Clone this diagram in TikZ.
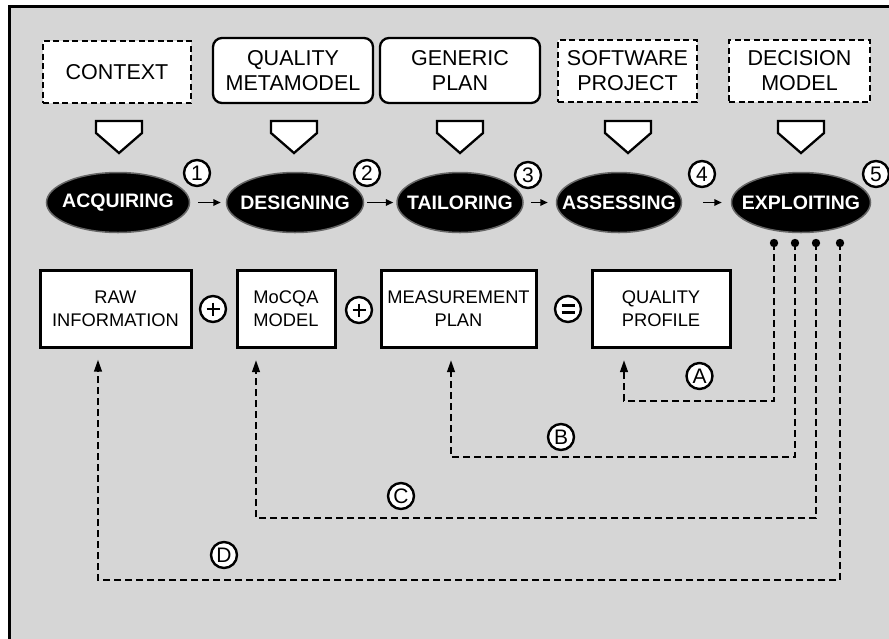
\documentclass[tikz,border=0pt]{standalone}
\usepackage{fontspec}
\setmainfont{Liberation Sans}
\usetikzlibrary{shapes.geometric,arrows.meta,calc}
\definecolor{bg}{RGB}{214,214,214}
\begin{document}
\begin{tikzpicture}[x=1pt,y=-1pt,
  dashbox/.style={draw=black, fill=white, line width=2.3pt, dash pattern=on 6pt off 3.5pt,
    minimum height=62pt, align=center, inner sep=0pt, font=\fontsize{21.5}{25}\selectfont},
  roundbox/.style={draw=black, fill=white, line width=2.3pt, rounded corners=9pt,
    minimum height=65pt, align=center, inner sep=0pt, font=\fontsize{21.5}{25}\selectfont},
  outbox/.style={draw=black, fill=white, line width=3pt,
    minimum height=77pt, align=center, inner sep=0pt, font=\fontsize{18.3}{23}\selectfont},
  stage/.style={ellipse, fill=black, draw=black!60, line width=1.5pt, text=white,
    minimum height=60pt, inner sep=0pt, font=\bfseries\fontsize{19.5}{20}\selectfont},
  circ/.style={circle, draw=black, fill=white, line width=2.4pt, minimum size=26pt,
    inner sep=0pt, font=\fontsize{21}{21}\selectfont},
  opsym/.style={circle, draw=black, fill=white, line width=2.4pt, minimum size=26pt,
    inner sep=0pt},
  plussign/.style={path picture={
    \draw[line width=2.8pt] ($(path picture bounding box.center)+(-6.5,0)$) -- +(13,0);
    \draw[line width=2.8pt] ($(path picture bounding box.center)+(0,-6.5)$) -- +(0,13);}},
  eqsign/.style={path picture={
    \draw[line width=2.8pt] ($(path picture bounding box.center)+(-6.5,-3.2)$) -- +(13,0);
    \draw[line width=2.8pt] ($(path picture bounding box.center)+(-6.5,3.2)$) -- +(13,0);}},
  flow/.style={line width=1.6pt, -{Triangle[length=7.5pt,width=6.5pt]}},
  fb/.style={line width=2.3pt, dash pattern=on 7pt off 4pt, -{Triangle[length=12pt,width=7.5pt]}},
  pentarrow/.pic={\draw[fill=white, line width=2.3pt, line join=miter]
     (-23,0) -- (23,0) -- (23,12) -- (0,32) -- (-23,12) -- cycle;}
]
\useasboundingbox (0,0) rectangle (889,638);
\clip (0,0) rectangle (889,638);
\fill[white] (0,0) rectangle (889,638);
\draw[line width=3.2pt, fill=bg] (9.5,6.5) rectangle (905,660);

% input boxes
\node[dashbox, minimum width=148pt] (ctx) at (117,72) {CONTEXT};
\node[roundbox, minimum width=160pt] (qmm) at (293,70.5) {QUALITY\\METAMODEL};
\node[roundbox, minimum width=160pt] (gp) at (460,70.5) {GENERIC\\PLAN};
\node[dashbox, minimum width=139pt] (sp) at (627.5,71) {SOFTWARE\\PROJECT};
\node[dashbox, minimum width=141pt] (dm) at (799.5,71) {DECISION\\MODEL};

% down arrows
\pic at (119,121) {pentarrow};
\pic at (294,121) {pentarrow};
\pic at (460,121) {pentarrow};
\pic at (628,121) {pentarrow};
\pic at (801,121) {pentarrow};

% stages
\node[stage, minimum width=143pt] (acq) at (118,202.5) {\makebox[0pt]{ACQUIRING}};
\node[stage, minimum width=137pt] (des) at (295,202.5) {\makebox[0pt]{DESIGNING}};
\node[stage, minimum width=126pt] (tai) at (460,202.5) {\makebox[0pt]{TAILORING}};
\node[stage, minimum width=125pt] (ass) at (619,202.5) {\makebox[0pt]{ASSESSING}};
\node[stage, minimum width=139pt] (exp) at (801,202.5) {\makebox[0pt]{EXPLOITING}};

\node[circ] (n1) at (197,173) {1};
\node[circ] (n2) at (367,173) {2};
\node[circ] (n3) at (528,175) {3};
\node[circ] (n4) at (702,174) {4};
\node[circ] (n5) at (876,174) {5};

\draw[flow, shorten <=8pt, shorten >=5pt] (acq) -- (des);
\draw[flow, shorten <=3pt, shorten >=3pt] (des) -- (tai);
\draw[flow, shorten <=7pt, shorten >=8pt] (tai) -- (ass);
\draw[flow, shorten <=21pt, shorten >=9pt] (ass) -- (exp);

% output boxes
\node[outbox, minimum width=151pt] (raw) at (115.5,308.5) {RAW\\INFORMATION};
\node[outbox, minimum width=98pt] (moc) at (286,309) {MoCQA\\MODEL};
\node[outbox, minimum width=155pt] (mp) at (458.5,309) {MEASUREMENT\\PLAN};
\node[outbox, minimum width=138pt] (qp) at (661,309) {QUALITY\\PROFILE};

\node[opsym, plussign] (plus1) at (213,309) {};
\node[opsym, plussign] (plus2) at (359,310) {};
\node[opsym, eqsign] (eq) at (568,309) {};

% feedback
\coordinate (dA) at (774,243);
\coordinate (dB) at (795,243);
\coordinate (dC) at (816,243);
\coordinate (dD) at (840,243);
\foreach \d in {dA,dB,dC,dD} \fill (\d) circle (4.2pt);

\draw[fb, shorten >=11pt] (dA) -- ($(dA)+(0,158)$) -| ([xshift=-37pt]qp.south);
\draw[fb, shorten >=11pt] (dB) -- ($(dB)+(0,214)$) -| ([xshift=-7.5pt]mp.south);
\draw[fb, shorten >=11pt] (dC) -- ($(dC)+(0,275)$) -| ([xshift=-30pt]moc.south);
\draw[fb, shorten >=11pt] (dD) -- ($(dD)+(0,337)$) -| ([xshift=-17.5pt]raw.south);

\node[circ] (lA) at (699.5,376) {A};
\node[circ] (lB) at (561,437) {B};
\node[circ] (lC) at (401,496) {C};
\node[circ] (lD) at (224,555) {D};
\end{tikzpicture}
\end{document}
